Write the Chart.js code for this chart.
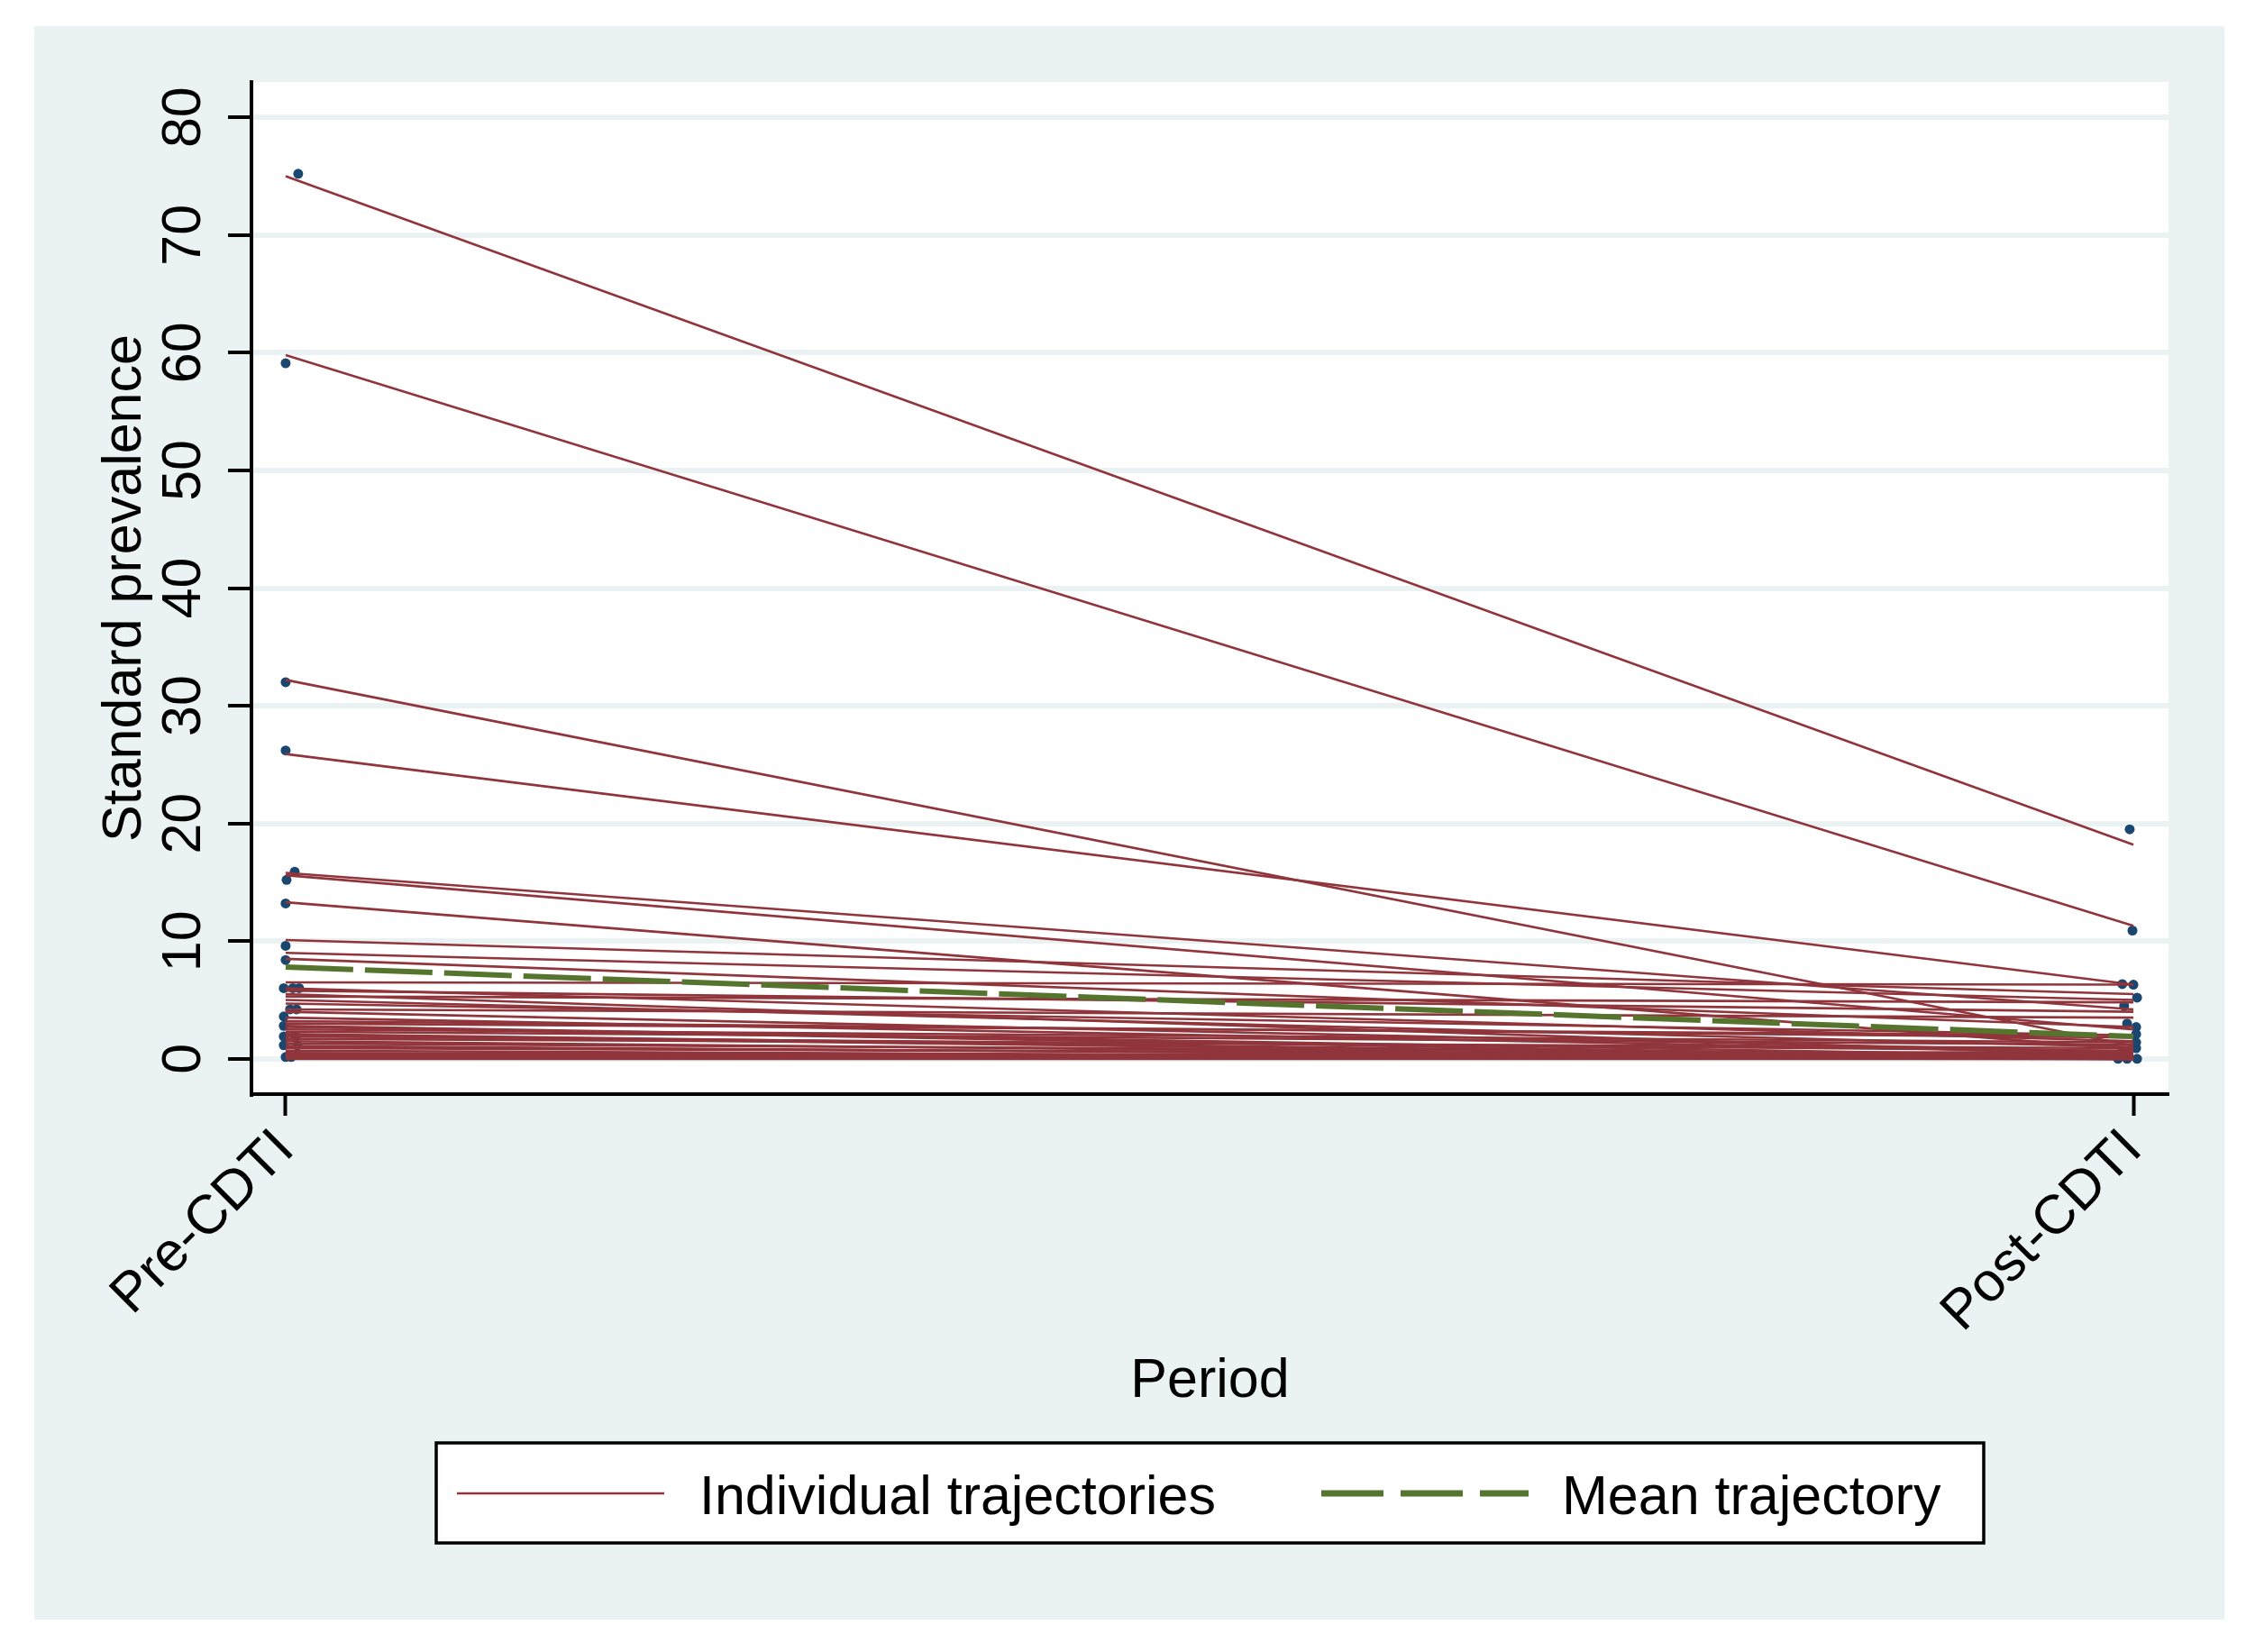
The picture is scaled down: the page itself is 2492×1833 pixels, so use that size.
<!DOCTYPE html>
<html>
<head>
<meta charset="utf-8">
<title>Standard prevalence, Pre-CDTI vs Post-CDTI</title>
<script src="https://cdn.jsdelivr.net/npm/chart.js@4.4.1/dist/chart.umd.min.js"></script>
<style>
    html, body { margin: 0; padding: 0; background: #ffffff; }
    canvas { display: block; }
</style>
</head>
<body>
<canvas id="myChart" width="2492" height="1833"></canvas>
<script>
// categories on the x axis
const periodLabels = ['Pre-CDTI', 'Post-CDTI'];

// one trajectory per index: value before and after
const preValues = [75.0, 59.8, 32.2, 25.9, 15.8, 15.6, 13.3, 10.1, 9.0, 8.5, 6.5, 6.0, 5.8, 5.5,
    5.3, 5.0, 4.7, 4.2, 4.0, 3.5, 3.2, 3.0, 2.8, 2.7, 2.5, 2.3, 2.0, 1.9, 1.7, 1.5, 1.3, 1.1,
    0.9, 0.7, 0.5, 0.3, 0.15, 0, 0.2, 0.4, 1.0, 2.1];
const postValues = [18.2, 11.3, 1.1, 6.3, 4.2, 2.5, 0.8, 5.5, 5.0, 2.7, 6.3, 1.5, 4.0, 0.3,
    4.8, 1.0, 2.0, 3.5, 0.6, 0.5, 1.8, 2.0, 0.2, 0, 1.4, 1.2, 0, 0.7, 0.9, 0, 0.4, 0,
    0.3, 0, 0.1, 0, 0, 0, 0.6, 0, 0.2, 0.1];

const meanValues = [7.8, 1.9];

// jittered markers (offset is in period units)
const preDotValues = [75.2, 59.1, 32.0, 26.2, 15.9, 15.2, 13.2, 9.6, 8.4, 6.0, 6.0, 6.0, 4.2, 4.2,
    3.6, 2.8, 1.9, 1.9, 1.15, 1.15, 0.15, 0.15];
const preDotOffsets = [0.0068, 0, 0, 0, 0.0049, 0.0005, 0, 0, 0, -0.001, 0.0039, 0.0073, 0.0024, 0.0059,
    -0.001, -0.001, -0.001, 0.0054, -0.001, 0.0063, 0, 0.003];
const postDotValues = [19.5, 10.9, 6.35, 6.3, 5.2, 4.5, 3.0, 2.7, 2.1, 1.4, 0.9, 0.6, 0.15, 0, 0, 0];
const postDotOffsets = [-0.002, -0.0005, -0.006, 0, 0.002, -0.005, -0.0034, 0.0015, 0.0015, 0.0015,
    0.0015, -0.006, -0.0034, -0.0083, -0.0034, 0.002];

const yTicks = [0, 10, 20, 30, 40, 50, 60, 70, 80];

document.addEventListener('DOMContentLoaded', function () {
    const red = '#90353B';
    const navy = '#1A476F';
    const green = '#55752F';
    const bluishGray = '#EAF2F3';
    const fontFamily = '"Liberation Sans", Arial, Helvetica, sans-serif';
    const bigFont = { family: fontFamily, size: 61 };

    let datasets = [];

    datasets.push({
        label: 'Mean trajectory',
        showLine: true,
        data: [{ x: 0, y: meanValues[0] }, { x: 1, y: meanValues[1] }],
        borderColor: green,
        borderWidth: 6,
        borderDash: [75, 13],
        pointRadius: 0,
        order: 0
    });

    for (let i = 0; i < preValues.length; i++) {
        datasets.push({
            label: 'Individual trajectories',
            showLine: true,
            data: [{ x: 0, y: preValues[i] }, { x: 1, y: postValues[i] }],
            borderColor: red,
            borderWidth: 2.6,
            pointRadius: 0,
            order: 1
        });
    }

    let dots = [];
    preDotValues.forEach((v, i) => dots.push({ x: 0 + preDotOffsets[i], y: v }));
    postDotValues.forEach((v, i) => dots.push({ x: 1 + postDotOffsets[i], y: v }));
    datasets.push({
        label: 'Observed',
        data: dots,
        showLine: false,
        backgroundColor: navy,
        borderWidth: 0,
        pointRadius: 5.5,
        order: 2
    });

    // Stata-like background: white page, bluish outer panel, white plot region
    const backgroundPlugin = {
        id: 'stataBackground',
        beforeDraw(chart) {
            const ctx = chart.ctx;
            const area = chart.chartArea;
            ctx.save();
            ctx.fillStyle = '#ffffff';
            ctx.fillRect(0, 0, chart.width, chart.height);
            ctx.fillStyle = bluishGray;
            ctx.fillRect(38, 29, 2430, 1768);
            ctx.fillStyle = '#ffffff';
            ctx.fillRect(area.left, area.top, area.right - area.left, area.bottom - area.top);
            ctx.restore();
        }
    };

    // boxed legend under the x axis title
    const legendPlugin = {
        id: 'boxLegend',
        afterDraw(chart) {
            const ctx = chart.ctx;
            ctx.save();
            ctx.fillStyle = '#ffffff';
            ctx.fillRect(484, 1601, 1717, 111);
            ctx.strokeStyle = '#000000';
            ctx.lineWidth = 3.5;
            ctx.strokeRect(484, 1601, 1717, 111);

            ctx.strokeStyle = red;
            ctx.lineWidth = 2.6;
            ctx.beginPath();
            ctx.moveTo(507, 1657);
            ctx.lineTo(737, 1657);
            ctx.stroke();

            ctx.strokeStyle = green;
            ctx.lineWidth = 7;
            ctx.setLineDash([69, 19]);
            ctx.beginPath();
            ctx.moveTo(1466, 1657);
            ctx.lineTo(1696, 1657);
            ctx.stroke();
            ctx.setLineDash([]);

            ctx.fillStyle = '#000000';
            ctx.font = '61px ' + fontFamily;
            ctx.textAlign = 'left';
            ctx.textBaseline = 'alphabetic';
            ctx.fillText('Individual trajectories', 776, 1680);
            ctx.fillText('Mean trajectory', 1733, 1680);
            ctx.restore();
        }
    };

    let ctx = document.getElementById('myChart').getContext('2d');
    let myChart = new Chart(ctx, {
        type: 'scatter',
        data: { datasets: datasets },
        options: {
            responsive: false,
            animation: false,
            devicePixelRatio: 1,
            layout: {
                padding: { left: 0, top: 91, right: 86, bottom: 259 }
            },
            plugins: {
                legend: { display: false },
                tooltip: { enabled: false }
            },
            scales: {
                x: {
                    type: 'linear',
                    min: -0.0185,
                    max: 1.019,
                    afterBuildTicks: function (scale) {
                        scale.ticks = [{ value: 0 }, { value: 1 }];
                    },
                    afterFit: function (scale) {
                        scale.height = 360;
                    },
                    ticks: {
                        callback: function (value) {
                            return periodLabels[value];
                        },
                        minRotation: 45,
                        maxRotation: 45,
                        padding: 2,
                        color: '#000000',
                        font: bigFont
                    },
                    grid: {
                        drawOnChartArea: false,
                        drawTicks: true,
                        tickLength: 24,
                        tickColor: '#000000',
                        tickWidth: 4
                    },
                    border: { display: true, color: '#000000', width: 4 },
                    title: {
                        display: true,
                        text: 'Period',
                        color: '#000000',
                        font: bigFont,
                        padding: { top: 0, bottom: 4 }
                    }
                },
                y: {
                    type: 'linear',
                    min: -3,
                    max: 83,
                    afterBuildTicks: function (scale) {
                        scale.ticks = yTicks.map(v => ({ value: v }));
                    },
                    afterFit: function (scale) {
                        scale.width = 279;
                    },
                    ticks: {
                        minRotation: 90,
                        maxRotation: 90,
                        crossAlign: 'center',
                        padding: 14,
                        color: '#000000',
                        font: bigFont
                    },
                    grid: {
                        color: bluishGray,
                        lineWidth: 6,
                        tickColor: '#000000',
                        tickWidth: 4,
                        tickLength: 26
                    },
                    border: { display: true, color: '#000000', width: 4 },
                    title: {
                        display: true,
                        text: 'Standard prevalence',
                        color: '#000000',
                        font: bigFont,
                        padding: { top: 103, bottom: 0 }
                    }
                }
            }
        },
        plugins: [backgroundPlugin, legendPlugin]
    });
});
</script>
</body>
</html>
